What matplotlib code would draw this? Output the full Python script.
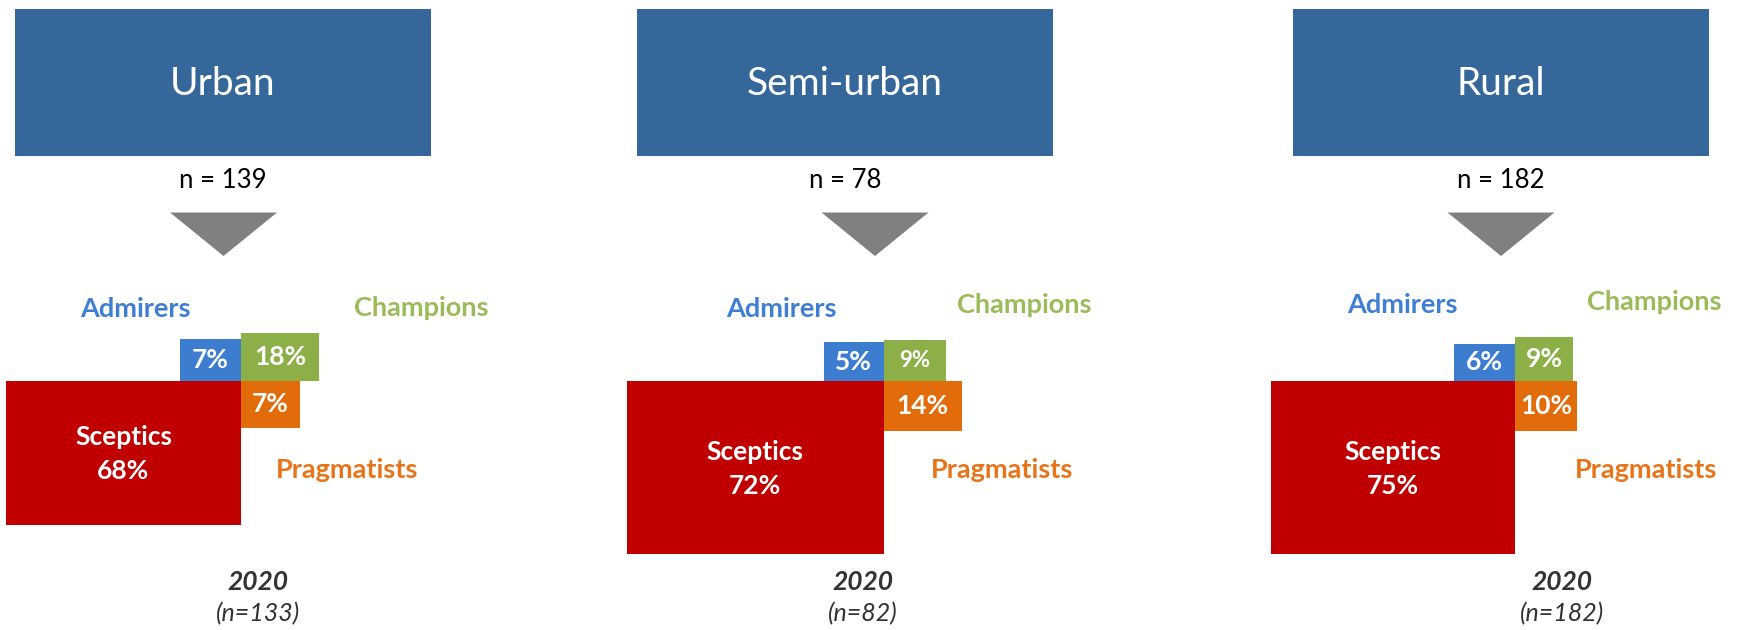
# segments_by_region.py
# Recreates the Admirers / Champions / Pragmatists / Sceptics breakdown by region

import matplotlib.pyplot as plt
from matplotlib.patches import Rectangle, Polygon

# -------------------------------
# Data
# -------------------------------
regions = ['Urban', 'Semi-urban', 'Rural']
region_n = [139, 78, 182]
admirers = [7, 5, 6]
champions = [18, 9, 9]
pragmatists = [7, 14, 10]
sceptics = [68, 72, 75]
year = 2020
year_n = [133, 82, 182]

# -------------------------------
# Layout (pixel coordinates on a 1739 x 630 canvas)
# -------------------------------
header_x = [15, 637, 1293]          # left edge of the header boxes
header_w = 416
header_top, header_bottom = 9, 156
triangle_cx = [223.5, 875, 1501]
junction = [(241, 381), (883.5, 381), (1515, 381)]   # where the 4 boxes meet
# (width, height) of each box per panel
red_size = [(235, 144), (257, 173), (244, 173)]
blue_size = [(61, 42), (60, 39), (61, 37)]
green_size = [(78, 48), (62, 41), (58, 44)]
orange_size = [(59, 47), (78, 50), (62, 50)]
champ_fontsize = [19, 16, 19]
admirers_pos = [(135, 309), (781.6, 309), (1402, 305)]
champions_pos = [(421, 308), (1024.7, 305), (1654.6, 302)]
pragmatists_pos = [(346.7, 470), (1001.8, 470), (1646.5, 470)]
year_x = [258, 862.6, 1561.8]

# Colours
c_header = '#35679A'
c_red = '#C00000'
c_blue = '#3C7DD0'
c_green = '#8CAF47'
c_orange = '#E36C0A'
c_admirers = '#3F7FD3'
c_champions = '#9BBB59'
c_pragmatists = '#E8741A'

plt.rcParams['font.family'] = ['Lato', 'DejaVu Sans']

fig = plt.figure(figsize=(17.39, 6.3), dpi=100)
ax = fig.add_axes([0, 0, 1, 1])
ax.set_xlim(0, 1739)
ax.set_ylim(630, 0)
ax.axis('off')

for i, region in enumerate(regions):
    # Header box
    hx = header_x[i]
    ax.add_patch(Rectangle((hx, header_top), header_w, header_bottom - header_top,
                           color=c_header, lw=0))
    hcx = hx + header_w / 2
    ax.text(hcx, 84, region, color='white', fontsize=28, ha='center', va='center')
    ax.text(hcx, 181, f"n = {region_n[i]}", color='black', fontsize=18.5,
            ha='center', va='center')

    # Arrow triangle
    tcx = triangle_cx[i]
    ax.add_patch(Polygon([(tcx - 53.5, 212.5), (tcx + 53.5, 212.5), (tcx, 256)],
                         closed=True, color='#808080', lw=0))

    jx, jy = junction[i]

    # Sceptics (bottom-left)
    w, h = red_size[i]
    ax.add_patch(Rectangle((jx - w, jy), w, h, color=c_red, lw=0))
    ax.text(jx - w / 2, jy + h / 2 - 16, "Sceptics", color='white', fontsize=19,
            fontweight='bold', ha='center', va='center')
    ax.text(jx - w / 2, jy + h / 2 + 18, f"{sceptics[i]}%", color='white',
            fontsize=19, fontweight='bold', ha='center', va='center')

    # Admirers (top-left)
    w, h = blue_size[i]
    ax.add_patch(Rectangle((jx - w, jy - h), w, h, color=c_blue, lw=0))
    ax.text(jx - w / 2, jy - h / 2, f"{admirers[i]}%", color='white', fontsize=19,
            fontweight='bold', ha='center', va='center')

    # Champions (top-right)
    w, h = green_size[i]
    ax.add_patch(Rectangle((jx, jy - h), w, h, color=c_green, lw=0))
    ax.text(jx + w / 2, jy - h / 2, f"{champions[i]}%", color='white',
            fontsize=champ_fontsize[i], fontweight='bold',
            ha='center', va='center')

    # Pragmatists (bottom-right)
    w, h = orange_size[i]
    ax.add_patch(Rectangle((jx, jy), w, h, color=c_orange, lw=0))
    ax.text(jx + w / 2, jy + h / 2, f"{pragmatists[i]}%", color='white',
            fontsize=19, fontweight='bold', ha='center', va='center')

    # Segment labels
    ax.text(*admirers_pos[i], "Admirers", color=c_admirers, fontsize=19.5,
            fontweight='bold', ha='center', va='center')
    ax.text(*champions_pos[i], "Champions", color=c_champions, fontsize=19.5,
            fontweight='bold', ha='center', va='center')
    ax.text(*pragmatists_pos[i], "Pragmatists", color=c_pragmatists, fontsize=19.5,
            fontweight='bold', ha='center', va='center')

    # Year and sample size
    ax.text(year_x[i], 582, str(year), color='#333333', fontsize=19,
            fontweight='bold', fontstyle='italic', ha='center', va='center')
    ax.text(year_x[i], 614, f"(n={year_n[i]})", color='#333333', fontsize=18,
            fontstyle='italic', ha='center', va='center')

plt.savefig("out.png", dpi=100)
plt.close()
